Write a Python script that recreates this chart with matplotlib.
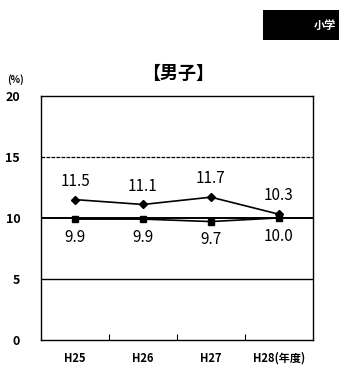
import matplotlib
matplotlib.use("Agg")
import matplotlib.pyplot as plt
from matplotlib.patches import Rectangle

plt.rcParams['font.family'] = ['Noto Sans CJK JP', 'DejaVu Sans']

years = ["H25", "H26", "H27", "H28"]
series_a = [11.5, 11.1, 11.7, 10.3]
series_b = [9.9, 9.9, 9.7, 10.0]
yticks = [0, 5, 10, 15, 20]

fig = plt.figure(figsize=(3.39, 3.69), dpi=100)
ax = fig.add_axes([0.121, 0.079, 0.802, 0.661])

x = list(range(len(years)))
ax.plot(x, series_a, color='black', lw=1.2, marker='D', ms=4, zorder=3)
ax.plot(x, series_b, color='black', lw=1.2, marker='s', ms=5, zorder=3)

for xi, v in zip(x, series_a):
    ax.text(xi, v + 0.8, f"{v:.1f}", ha='center', va='bottom', fontsize=11)
for xi, v in zip(x, series_b):
    ax.text(xi, v - 0.8, f"{v:.1f}", ha='center', va='top', fontsize=11)

ax.axhline(15, color='black', lw=0.9, ls=(0, (3, 1)), zorder=1)
ax.axhline(10, color='black', lw=1.4, zorder=1)
ax.axhline(5, color='black', lw=1.0, zorder=1)

ax.set_xlim(-0.5, 3.5)
ax.set_ylim(0, 20)
ax.set_yticks(yticks)
ax.set_yticklabels([str(t) for t in yticks], fontsize=9, fontweight='bold')
ax.set_xticks([0.5, 1.5, 2.5])
ax.set_xticklabels([])
ax.tick_params(axis='x', direction='in', length=4)
ax.tick_params(axis='y', length=0, pad=15)
for xi, lab in zip(x, years):
    label = lab + "(年度)" if xi == 3 else lab
    ax.text(xi, -1.5, label, ha='center', va='center', fontsize=8, fontweight='bold')
for s in ax.spines.values():
    s.set_linewidth(1.0)

fig.text(0.525, 0.80, "【男子】", ha='center', va='center', fontsize=13, fontweight='bold')
fig.text(0.045, 0.785, "(%)", ha='center', va='center', fontsize=7, fontweight='bold')

fig.patches.append(Rectangle((0.776, 0.892), 0.3, 0.08, transform=fig.transFigure,
                             facecolor='black', edgecolor='none'))
fig.text(0.925, 0.932, "小学", ha='left', va='center', color='white', fontsize=8, fontweight='bold')

fig.savefig("out.png", dpi=100)
